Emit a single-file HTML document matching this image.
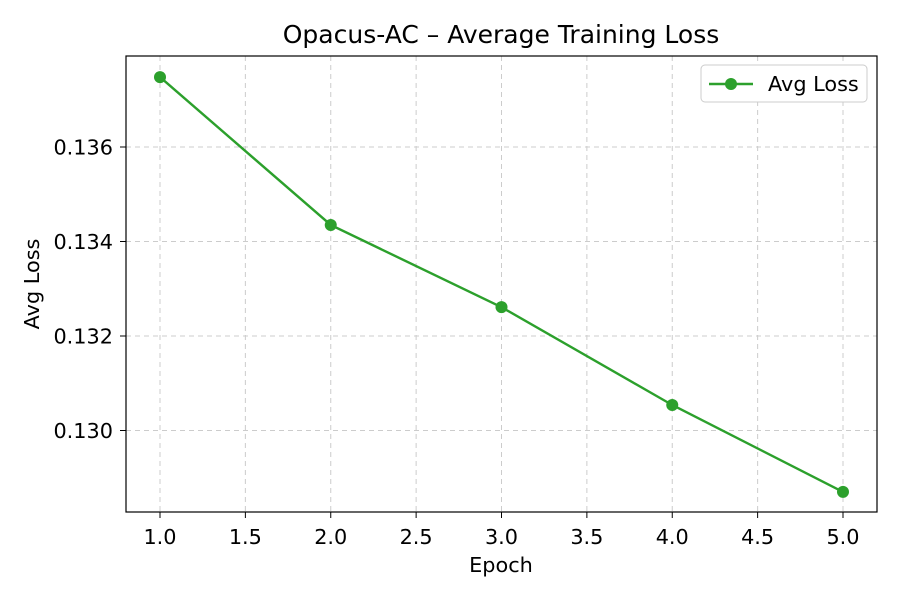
<!DOCTYPE html>
<html><head><meta charset="utf-8"><style>
body{margin:0;background:#fff;font-family:"DejaVu Sans","Liberation Sans",sans-serif}
text{font-family:"DejaVu Sans","Liberation Sans",sans-serif}
</style></head><body>
<svg id="chart" width="900" height="600" xmlns="http://www.w3.org/2000/svg">
<rect width="900" height="600" fill="#fff"/>
<text x="501" y="43" font-size="25" text-anchor="middle" fill="#000">Opacus-AC – Average Training Loss</text>
<g id="grid"></g>
<rect x="126" y="56" width="751" height="456" fill="none" stroke="#000" stroke-width="1.2"/>
<g id="ticks"></g>
<g id="series"></g>
<text x="501" y="572" font-size="20.8" text-anchor="middle">Epoch</text>
<text x="39" y="284" font-size="20.8" text-anchor="middle" transform="rotate(-90 39 284)">Avg Loss</text>
<g>
<rect x="701" y="65" width="166" height="37" rx="4" fill="#fff" stroke="#ccc"/>
<line x1="709" y1="84" x2="753" y2="84" stroke="#2ca02c" stroke-width="2.4"/>
<circle cx="731" cy="84" r="6" fill="#2ca02c"/>
<text x="768" y="91" font-size="20.8">Avg Loss</text>
</g>
</svg>
<script>
const epochs=[1,2,3,4,5];
const losses=[0.13748,0.13435,0.13261,0.13054,0.12870];
const xTicks=[1.0,1.5,2.0,2.5,3.0,3.5,4.0,4.5,5.0];
const yTicks=[0.130,0.132,0.134,0.136];
const NS="http://www.w3.org/2000/svg";
function sx(v){return 160+(v-1)*170.75;}
function sy(v){return 147-(v-0.136)/0.002*94.5;}
function mk(t,a,p){const e=document.createElementNS(NS,t);for(const k in a)e.setAttribute(k,a[k]);p.appendChild(e);return e;}
const grid=document.getElementById('grid'),ticks=document.getElementById('ticks'),ser=document.getElementById('series');
xTicks.forEach(v=>{const x=sx(v);
const g=mk('line',{x1:x,x2:x,y1:56,y2:512,stroke:'#ccc','stroke-dasharray':'5,4','stroke-width':1},grid);


const t=mk('line',{x1:x,x2:x,y1:512,y2:518,stroke:'#000'},ticks);


const l=mk('text',{x:x,y:544,'font-size':20.8,'text-anchor':'middle'},ticks);l.textContent=v.toFixed(1);

});
yTicks.forEach(v=>{const y=sy(v);
const g=mk('line',{x1:126,x2:877,y1:y,y2:y,stroke:'#ccc','stroke-dasharray':'5,4','stroke-width':1},grid);


const t=mk('line',{x1:120,x2:126,y1:y,y2:y,stroke:'#000'},ticks);


const l=mk('text',{x:113,y:y+7.5,'font-size':20.8,'text-anchor':'end'},ticks);l.textContent=v.toFixed(3);

});
const pl=mk('polyline',{points:epochs.map((e,i)=>sx(e)+','+sy(losses[i])).join(' '),fill:'none',stroke:'#2ca02c','stroke-width':2.4},ser);


epochs.forEach((e,i)=>{const c=mk('circle',{cx:sx(e),cy:sy(losses[i]),r:6,fill:'#2ca02c'},ser);

});
</script>
</body></html>
